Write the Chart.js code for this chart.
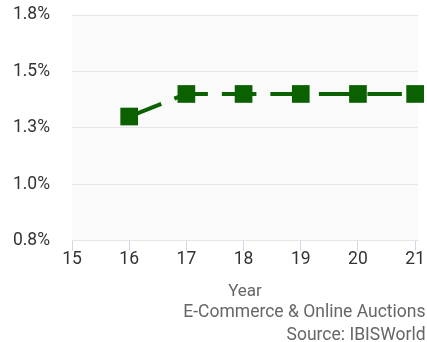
<!DOCTYPE html>
<html>
<head>
<meta charset="utf-8">
<script src="https://cdn.jsdelivr.net/npm/chart.js@4"></script>
<style>
  html, body { margin: 0; padding: 0; background: #fff; }
  #wrap { width: 427px; height: 342px; }
</style>
</head>
<body>
<div id="wrap"><canvas id="share-canvas"></canvas></div>
<script>
// years (two-digit) and market share, %
var years = [16, 17, 18, 19, 20, 21];
var shares = [1.3, 1.4, 1.4, 1.4, 1.4, 1.4];

var yTicks = [0.75, 1.0, 1.25, 1.5, 1.75];
var xTicks = [15, 16, 17, 18, 19, 20, 21];
var footerLines = ['E-Commerce & Online Auctions', 'Source: IBISWorld'];

var lineColor = '#0b6100';

// light grey panel behind the plot
var plotBackground = {
    id: 'plotBackground',
    beforeDraw: function (chart) {
        var a = chart.chartArea;
        var ctx = chart.ctx;
        ctx.save();
        ctx.fillStyle = '#fafafa';
        ctx.fillRect(a.left, a.top, a.right - a.left, a.bottom - a.top);
        ctx.restore();
    }
};

var shareCanvas = document.getElementById('share-canvas').getContext('2d');

var shareChart = new Chart(shareCanvas, {
    type: 'line',
    data: {
        datasets: [{
            data: years.map(function (y, i) { return { x: y, y: shares[i] }; }),
            borderColor: lineColor,
            backgroundColor: lineColor,
            borderWidth: 4,
            borderDash: [34.5, 14],
            pointStyle: 'rect',
            pointRadius: 12.5,
            pointBorderWidth: 0,
            pointBackgroundColor: lineColor,
            clip: false,
            tension: 0
        }]
    },
    options: {
        responsive: true,
        maintainAspectRatio: false,
        animation: false,
        layout: {
            autoPadding: false,
            padding: { top: 15, right: 1.5, left: 0, bottom: 0 }
        },
        plugins: {
            legend: { display: false },
            tooltip: { enabled: false },
            title: {
                display: true,
                position: 'bottom',
                align: 'end',
                text: footerLines,
                color: '#666666',
                font: { family: 'Roboto', size: 17.5, weight: 'normal', lineHeight: 1.3 },
                padding: { top: 0, bottom: -5 }
            }
        },
        scales: {
            x: {
                type: 'linear',
                min: 15,
                max: 21.05,
                afterBuildTicks: function (scale) {
                    scale.ticks = xTicks.map(function (v) { return { value: v }; });
                },
                // keep room on the right for the last label
                afterFit: function (scale) {
                    scale.paddingRight = 9;
                },
                grid: {
                    drawOnChartArea: false,
                    drawTicks: true,
                    tickLength: 10,
                    color: '#ccd6eb'
                },
                border: { display: true, color: '#e6e6e6' },
                ticks: {
                    color: '#333333',
                    padding: 0,
                    maxRotation: 0,
                    font: { family: 'Roboto', size: 17.5, lineHeight: 1.0 }
                },
                title: {
                    display: true,
                    text: 'Year',
                    color: '#666666',
                    font: { family: 'Roboto', size: 17 },
                    padding: { top: 13, bottom: 0 }
                }
            },
            y: {
                min: 0.75,
                max: 1.75,
                afterBuildTicks: function (scale) {
                    scale.ticks = yTicks.map(function (v) { return { value: v }; });
                },
                // fixed label column; tick padding would otherwise push the plot down
                afterFit: function (scale) {
                    scale.width = 72;
                    scale.paddingTop = 0;
                },
                grid: {
                    drawTicks: false,
                    color: '#e6e6e6'
                },
                border: { display: false },
                ticks: {
                    color: '#333333',
                    padding: 22,
                    font: { family: 'Roboto', size: 17.5 },
                    callback: function (value) { return value.toFixed(1) + '%'; }
                }
            }
        }
    },
    plugins: [plotBackground]
});
</script>
</body>
</html>
